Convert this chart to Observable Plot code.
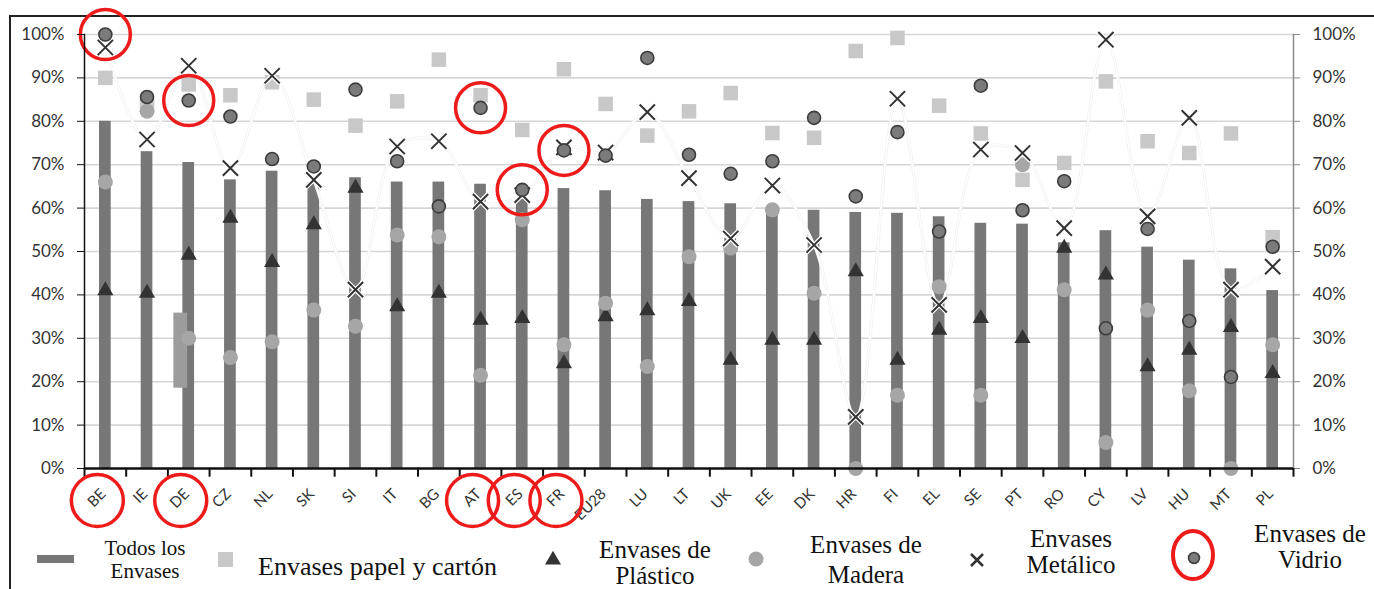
<!DOCTYPE html>
<html>
<head>
<meta charset="utf-8">
<script src="https://cdn.jsdelivr.net/npm/d3@7"></script>
<script src="https://cdn.jsdelivr.net/npm/@observablehq/plot@0.6"></script>
<style>
  html, body { margin: 0; padding: 0; background: #fff; overflow: hidden; }
  #wrap { position: relative; width: 1374px; height: 589px; overflow: hidden; }
  #border { position: absolute; left: 9px; top: 15px; width: 1420px; height: 640px; border: 2px solid #222; box-sizing: border-box; }
  #chart { position: absolute; left: 0; top: 0; width: 1374px; }
  #chart svg { max-width: none !important; }
  #legend { position: absolute; left: 0; top: 500px; overflow: visible; }
</style>
</head>
<body>
<div id="wrap">
  <div id="border"></div>
  <div id="chart"></div>
  <svg id="legend" width="1374" height="89"></svg>
</div>
<script>
// Packaging recycling rates by country (%)
const countries = ["BE","IE","DE","CZ","NL","SK","SI","IT","BG","AT","ES","FR","EU28","LU","LT","UK","EE","DK","HR","FI","EL","SE","PT","RO","CY","LV","HU","MT","PL"];

// Todos los envases
const total   = [80, 73, 70.5, 66.5, 68.5, 65.8, 67, 66, 66, 65.5, 62, 64.5, 64, 62, 61.5, 61, 60, 59.5, 59, 58.8, 58, 56.5, 56.3, 52, 54.8, 51, 48, 46, 41];
// Envases papel y cartón
const paper   = [90, 83.8, 88.5, 86, 89, 85, 79, 84.6, 94.2, 86, 78, 92, 84, 76.7, 82.3, 86.5, 77.3, 76.2, 96.2, 99.2, 83.6, 77.2, 66.5, 70.4, 89.2, 75.4, 72.7, 77.2, 53.3];
// Envases de plástico
const plastic = [41, 40.4, 49.2, 57.7, 47.5, 56.2, 64.6, 37.3, 40.4, 34.2, 34.6, 24.2, 35, 36.4, 38.5, 25, 29.6, 29.6, 45.4, 25, 31.9, 34.6, 30, 50.8, 44.6, 23.5, 27.3, 32.5, 21.9];
// Envases de madera
const wood    = [66, 82.3, 30, 25.6, 29.2, 36.5, 32.8, 53.8, 53.4, 21.5, 57.3, 28.5, 38.1, 23.5, 48.8, 50.8, 59.6, 40.4, 0, 16.9, 41.9, 16.9, 70, 41.2, 6, 36.5, 17.9, 0, 28.5];
// Envases metálicos
const metal   = [97, 75.8, 92.8, 69.2, 90.5, 66.5, 41.2, 74.2, 75.4, 61.5, 63, 74, 72.8, 82.1, 66.9, 53, 65.2, 51.5, 11.9, 85.2, 37.7, 73.5, 72.7, 55.4, 98.8, 58.1, 80.8, 41.2, 46.5];
// Envases de vidrio
const glass   = [100, 85.6, 84.8, 81.1, 71.3, 69.6, 87.3, 70.8, 60.4, 83.1, 64.2, 73.3, 72.1, 94.6, 72.3, 67.9, 70.8, 80.8, 62.7, 77.5, 54.6, 88.2, 59.5, 66.2, 32.3, 55.2, 34, 21.1, 51.1];

// Countries ringed in red
const highlighted = ["BE", "DE", "AT", "ES", "FR"];

// Light band drawn beside the DE bar
const deBand = [{country: "DE", low: 18.5, high: 35.8}];

const yTicks = [0, 10, 20, 30, 40, 50, 60, 70, 80, 90, 100];

const rows = countries.map((c, i) => ({
  country: c, total: total[i], paper: paper[i], plastic: plastic[i],
  wood: wood[i], metal: metal[i], glass: glass[i]
}));
const marked = rows.filter(d => highlighted.includes(d.country));

const W = 1374, H = 525, ML = 84, MR = 81, MT = 34, MB = 57;
const bw = (W - ML - MR) / countries.length;
const red = "#ee1b1b";
const pct = d => d + "%";

const chart = Plot.plot({
  width: W, height: H,
  marginLeft: ML, marginRight: MR, marginTop: MT, marginBottom: MB,
  style: {fontFamily: "Lato, sans-serif", fontSize: "16px", color: "#333", background: "transparent", overflow: "visible"},
  x: {type: "band", domain: countries, padding: 0, round: false, range: [ML, W - MR], axis: null},
  y: {domain: [0, 100], range: [H - MB, MT], axis: null},
  marks: [
    // horizontal grid
    Plot.ruleY(yTicks, {stroke: "#d6d6d6", strokeWidth: 1.6}),
    // Todos los envases
    Plot.barY(rows, {x: "country", y: "total", fill: "#777", insetLeft: 15, insetRight: 15}),
    Plot.barY(deBand, {x: "country", y1: "low", y2: "high", fill: "#9c9c9c", insetLeft: 6, insetRight: 22}),
    // smoothed metal series line
    Plot.line(rows, {x: "country", y: "metal", curve: "catmull-rom", stroke: "#f1f1f1", strokeWidth: 3}),
    Plot.line(rows, {x: "country", y: "metal", curve: "catmull-rom", stroke: "#fff", strokeWidth: 1.5}),
    // papel y cartón
    Plot.dot(rows, {x: "country", y: "paper", symbol: "square", r: 8.2, fill: "#c8c8c8"}),
    // plástico
    Plot.dot(rows, {x: "country", y: "plastic", symbol: "triangle", r: 6, fill: "#333"}),
    // madera
    Plot.dot(rows, {x: "country", y: "wood", r: 7.5, fill: "#a6a6a6"}),
    // metálico
    Plot.dot(rows, {x: "country", y: "metal", symbol: "times", r: 7, stroke: "#fff", strokeWidth: 4.5}),
    Plot.dot(rows, {x: "country", y: "metal", symbol: "times", r: 7, stroke: "#333", strokeWidth: 2}),
    // vidrio
    Plot.dot(rows, {x: "country", y: "glass", r: 6.5, fill: "#7b7b7b", stroke: "#3c3c3c", strokeWidth: 1.6}),
    Plot.dot(marked, {x: "country", y: "glass", r: 25, fill: "none", stroke: red, strokeWidth: 3.5}),
    // axes
    Plot.frame({anchor: "left", stroke: "#111", strokeWidth: 1.5}),
    Plot.frame({anchor: "right", stroke: "#8a8a8a", strokeWidth: 1.5}),
    Plot.axisY({anchor: "left", ticks: yTicks, tickFormat: pct, tickSize: 7, tickPadding: 13, stroke: "#111", fill: "#333", fontSize: 17, label: null}),
    Plot.axisY({anchor: "right", ticks: yTicks, tickFormat: pct, tickSize: 6, tickPadding: 13, stroke: "#8a8a8a", fill: "#333", fontSize: 17, label: null}),
    Plot.ruleY([0], {stroke: "#111", strokeWidth: 2.5}),
    Plot.ruleX(countries, {x: d => d, y1: 0, y2: -2, dx: -bw / 2, stroke: "#111", strokeWidth: 2}),
    Plot.ruleX([countries[countries.length - 1]], {x: d => d, y1: 0, y2: -2, dx: bw / 2, stroke: "#111", strokeWidth: 2}),
    // rotated country labels
    Plot.text(countries, {x: d => d, y: 0, text: d => d, rotate: -45, textAnchor: "end", dx: -2, dy: 23, fontSize: 15, fill: "#333"}),
    Plot.dot(highlighted, {x: d => d, y: 0, r: 26, dx: -8, dy: 32, fill: "none", stroke: red, strokeWidth: 3.5})
  ]
});
document.getElementById("chart").append(chart);

// Legend below the chart
const lg = d3.select("#legend");
const oy = 500;
const serif = "'Liberation Serif', 'Times New Roman', serif";
function words(lines, cx, baselines, size) {
  lines.forEach((t, i) => {
    lg.append("text").attr("x", cx).attr("y", baselines[i] - oy)
      .attr("text-anchor", "middle").attr("font-family", serif)
      .attr("font-size", size).attr("fill", "#111").text(t);
  });
}
lg.append("rect").attr("x", 37).attr("y", 555 - oy).attr("width", 37).attr("height", 8).attr("fill", "#777");
words(["Todos los", "Envases"], 145, [555, 578], 21);

lg.append("rect").attr("x", 218).attr("y", 552 - oy).attr("width", 15).attr("height", 15).attr("fill", "#c8c8c8");
lg.append("text").attr("x", 258).attr("y", 575 - oy).attr("font-family", serif).attr("font-size", 26).attr("fill", "#111").text("Envases papel y cartón");

lg.append("path").attr("d", d3.symbol(d3.symbolTriangle, 110)()).attr("transform", `translate(553,${560 - oy})`).attr("fill", "#333");
words(["Envases de", "Plástico"], 655, [558, 584], 25);

lg.append("circle").attr("cx", 756).attr("cy", 559 - oy).attr("r", 7.5).attr("fill", "#a6a6a6");
words(["Envases de", "Madera"], 866, [553, 583], 25);

lg.append("path").attr("d", "M-6,-6L6,6M-6,6L6,-6").attr("transform", `translate(977,${560 - oy})`).attr("stroke", "#333").attr("stroke-width", 2.5);
words(["Envases", "Metálico"], 1071, [547, 573], 25);

lg.append("ellipse").attr("cx", 1193).attr("cy", 555 - oy).attr("rx", 20).attr("ry", 24).attr("fill", "none").attr("stroke", red).attr("stroke-width", 4);
lg.append("circle").attr("cx", 1194).attr("cy", 558 - oy).attr("r", 5.5).attr("fill", "#7b7b7b").attr("stroke", "#3c3c3c").attr("stroke-width", 1.5);
words(["Envases de", "Vidrio"], 1310, [542, 568], 25);
</script>
</body>
</html>
